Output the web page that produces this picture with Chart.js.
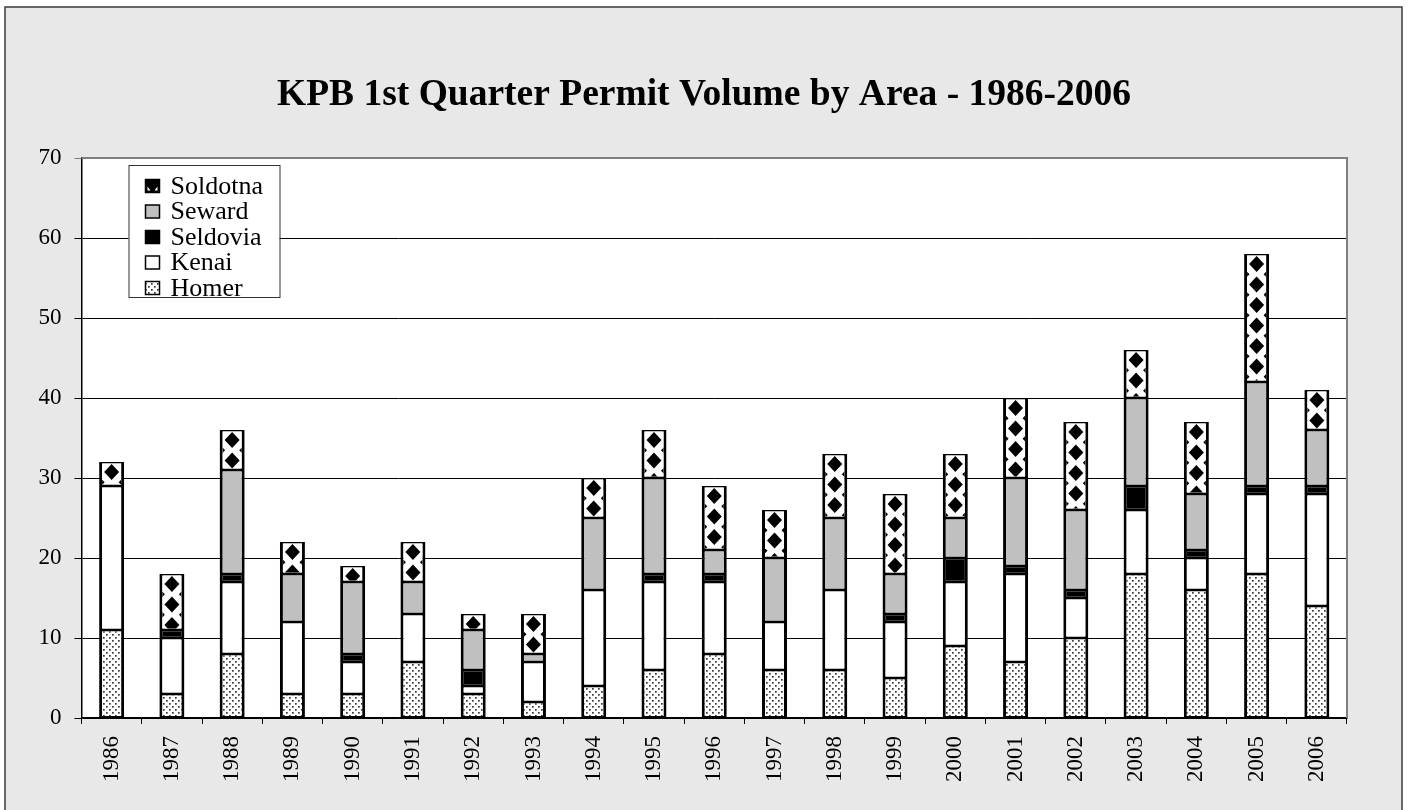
<!DOCTYPE html>
<html>
<head>
<meta charset="utf-8">
<script src="https://cdn.jsdelivr.net/npm/chart.js@4.4.1/dist/chart.umd.min.js"></script>
<style>
  html, body { margin: 0; padding: 0; background: #ffffff; }
  #wrap { width: 1408px; height: 810px; position: relative; }
</style>
</head>
<body>
<div id="wrap"><canvas id="c" width="1408" height="810"></canvas></div>
<script>
const years = ['1986','1987','1988','1989','1990','1991','1992','1993','1994','1995','1996','1997','1998','1999','2000','2001','2002','2003','2004','2005','2006'];
const homer    = [11, 3, 8, 3, 3, 7, 3, 2, 4, 6, 8, 6, 6, 5, 9, 7, 10, 18, 16, 18, 14];
const kenai    = [18, 7, 9, 9, 4, 6, 1, 5, 12, 11, 9, 6, 10, 7, 8, 11, 5, 8, 4, 10, 14];
const seldovia = [0, 1, 1, 0, 1, 0, 2, 0, 0, 1, 1, 0, 0, 1, 3, 1, 1, 3, 1, 1, 1];
const seward   = [0, 0, 13, 6, 9, 4, 5, 1, 9, 12, 3, 8, 9, 5, 5, 11, 10, 11, 7, 13, 7];
const soldotna = [3, 7, 5, 4, 2, 5, 2, 5, 5, 6, 8, 6, 8, 10, 8, 10, 11, 6, 9, 16, 5];
const yTicks   = [0, 10, 20, 30, 40, 50, 60, 70];
const titleText = 'KPB 1st Quarter Permit Volume by Area - 1986-2006';

const SERIF = "'Liberation Serif', 'Times New Roman', serif";

function makeDots() {
  const c = document.createElement('canvas');
  c.width = 6; c.height = 6;
  const g = c.getContext('2d');
  g.fillStyle = '#ffffff'; g.fillRect(0, 0, 6, 6);
  g.fillStyle = '#3a3a3a';
  g.fillRect(1, 1, 1.7, 1.7);
  g.fillRect(4, 4, 1.7, 1.7);
  return g.createPattern(c, 'repeat');
}
const dots = makeDots();

function diamond(ctx, cx, cy, hw, hh) {
  ctx.beginPath();
  ctx.moveTo(cx, cy - hh);
  ctx.lineTo(cx + hw, cy);
  ctx.lineTo(cx, cy + hh);
  ctx.lineTo(cx - hw, cy);
  ctx.closePath();
  ctx.fill();
}

const framePlugin = {
  id: 'frame',
  beforeDraw(chart) {
    const ctx = chart.ctx, ca = chart.chartArea;
    ctx.save();
    ctx.fillStyle = '#ffffff';
    ctx.fillRect(0, 0, chart.width, chart.height);
    ctx.fillStyle = '#e8e8e8';
    ctx.fillRect(5, 7, chart.width - 11, chart.height);
    ctx.strokeStyle = '#3a3a3a';
    ctx.lineWidth = 1.5;
    ctx.strokeRect(5, 7, chart.width - 11, chart.height + 10);
    ctx.fillStyle = '#ffffff';
    ctx.fillRect(ca.left, ca.top, ca.right - ca.left, ca.bottom - ca.top);
    ctx.restore();
  },
  beforeDatasetsDraw(chart) {
    const ctx = chart.ctx, ca = chart.chartArea;
    ctx.save();
    ctx.strokeStyle = '#808080';
    ctx.lineWidth = 2;
    ctx.beginPath();
    ctx.moveTo(ca.left, ca.top);
    ctx.lineTo(ca.right, ca.top);
    ctx.lineTo(ca.right, ca.bottom);
    ctx.stroke();
    ctx.restore();
  }
};

const diamondPlugin = {
  id: 'diamonds',
  afterDatasetsDraw(chart) {
    const idx = chart.data.datasets.findIndex(d => d.label === 'Soldotna');
    const meta = chart.getDatasetMeta(idx);
    const ctx = chart.ctx;
    meta.data.forEach(el => {
      const p = el.getProps(['x', 'y', 'base', 'width'], true);
      const top = Math.min(p.y, p.base), bot = Math.max(p.y, p.base);
      if (bot - top < 2) return;
      ctx.save();
      ctx.beginPath();
      ctx.rect(p.x - p.width / 2 + 3, top + 1.5, p.width - 6, bot - top - 3);
      ctx.clip();
      ctx.fillStyle = '#000000';
      for (let cy = top + 10; cy < bot + 12; cy += 20.5) {
        diamond(ctx, p.x, cy, 7.5, 8);
        diamond(ctx, p.x - p.width / 2 + 2, cy + 10.25, 3.5, 3.5);
        diamond(ctx, p.x + p.width / 2 - 2, cy + 10.25, 3.5, 3.5);
      }
      ctx.restore();
    });
  }
};

const legendPlugin = {
  id: 'boxLegend',
  afterDraw(chart) {
    const ctx = chart.ctx, ca = chart.chartArea;
    const bx = ca.left + 47, by = ca.top + 7, bw = 151, bh = 132;
    ctx.save();
    ctx.fillStyle = '#ffffff';
    ctx.fillRect(bx, by, bw, bh);
    ctx.strokeStyle = '#333333';
    ctx.lineWidth = 1;
    ctx.strokeRect(bx + 0.5, by + 0.5, bw, bh);
    const items = chart.data.datasets.slice().reverse();
    ctx.font = '26px ' + SERIF;
    ctx.textBaseline = 'middle';
    ctx.textAlign = 'left';
    items.forEach((ds, i) => {
      const cy = by + 21 + i * 25.5;
      const sx = bx + 17, sy = cy - 6.5, sw = 14, sh = 13;
      if (ds.label === 'Soldotna') {
        ctx.fillStyle = '#000';
        ctx.fillRect(sx, sy, sw, sh);
        ctx.fillStyle = '#fff';
        ctx.beginPath(); ctx.moveTo(sx + 2, sy + sh - 2); ctx.lineTo(sx + 5, sy + sh - 2); ctx.lineTo(sx + 2, sy + sh - 6); ctx.closePath(); ctx.fill();
        ctx.beginPath(); ctx.moveTo(sx + sw - 2, sy + sh - 2); ctx.lineTo(sx + sw - 5, sy + sh - 2); ctx.lineTo(sx + sw - 2, sy + sh - 6); ctx.closePath(); ctx.fill();
      } else {
        ctx.fillStyle = ds.backgroundColor;
        ctx.fillRect(sx, sy, sw, sh);
      }
      ctx.strokeStyle = '#000';
      ctx.lineWidth = 1.5;
      ctx.strokeRect(sx, sy, sw, sh);
      ctx.fillStyle = '#000';
      ctx.fillText(ds.label, bx + 42, cy + 1);
    });
    ctx.restore();
  }
};

const common = {
  borderColor: '#000000',
  borderWidth: { left: 3, right: 3, top: 1.5, bottom: 1.5 },
  borderSkipped: false,
  barPercentage: 0.415,
  categoryPercentage: 1.0
};

new Chart(document.getElementById('c'), {
  type: 'bar',
  data: {
    labels: years,
    datasets: [
      Object.assign({ label: 'Homer', data: homer, backgroundColor: dots }, common),
      Object.assign({ label: 'Kenai', data: kenai, backgroundColor: '#ffffff' }, common),
      Object.assign({ label: 'Seldovia', data: seldovia, backgroundColor: '#000000' }, common),
      Object.assign({ label: 'Seward', data: seward, backgroundColor: '#c0c0c0' }, common),
      Object.assign({ label: 'Soldotna', data: soldotna, backgroundColor: '#ffffff' }, common)
    ]
  },
  options: {
    responsive: false,
    devicePixelRatio: 1,
    animation: false,
    layout: { padding: { left: 0, right: 0, top: 0, bottom: 0 } },
    plugins: {
      legend: { display: false },
      tooltip: { enabled: false },
      title: {
        display: true,
        text: titleText,
        color: '#000',
        font: { family: SERIF, size: 37.5, weight: 'bold', lineHeight: 1.2 },
        padding: { top: 72.5, bottom: 40.5 }
      }
    },
    scales: {
      x: {
        stacked: true,
        afterFit(s) { s.height = 92; },
        grid: { display: true, drawOnChartArea: false, drawTicks: true, tickLength: 6, offset: true, color: '#000', lineWidth: 1 },
        border: { display: true, color: '#000', width: 1.5 },
        ticks: {
          color: '#000',
          font: { family: SERIF, size: 23 },
          minRotation: 90, maxRotation: 90,
          padding: 12,
          autoSkip: false
        }
      },
      y: {
        stacked: true,
        min: yTicks[0],
        max: yTicks[yTicks.length - 1],
        afterFit(s) { s.width = 81.5; },
        afterBuildTicks(s) { s.ticks = yTicks.map(v => ({ value: v })); },
        grid: {
          color: c => (c.tick && c.tick.value === yTicks[yTicks.length - 1]) ? '#808080' : '#000',
          lineWidth: 1,
          drawTicks: true,
          tickLength: 7
        },
        border: { display: true, color: '#000', width: 1.5 },
        ticks: {
          color: '#000',
          font: { family: SERIF, size: 23 },
          padding: 13
        }
      },
      spacer: {
        type: 'linear',
        position: 'right',
        display: true,
        afterFit(s) { s.width = 61; },
        grid: { display: false, drawOnChartArea: false },
        border: { display: false },
        ticks: { display: false }
      }
    }
  },
  plugins: [framePlugin, diamondPlugin, legendPlugin]
});
</script>
</body>
</html>
